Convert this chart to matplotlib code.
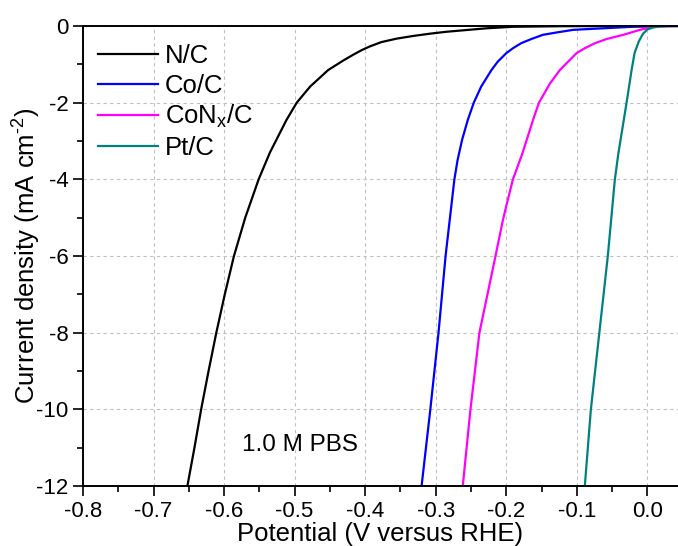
import matplotlib
matplotlib.use("Agg")
import matplotlib.pyplot as plt
from matplotlib.ticker import MultipleLocator

plt.rcParams['font.family'] = ['Liberation Sans', 'DejaVu Sans']
plt.rcParams['mathtext.fontset'] = 'custom'
plt.rcParams['mathtext.rm'] = 'Liberation Sans'
plt.rcParams['mathtext.it'] = 'Liberation Sans:italic'
plt.rcParams['axes.unicode_minus'] = False

# polarization curves (potential in V vs RHE, current density in mA cm-2)
nc_v = [-0.652, -0.642, -0.6325, -0.622, -0.611, -0.599, -0.586, -0.570, -0.551, -0.535,
        -0.5115, -0.497, -0.478, -0.4525, -0.431, -0.417, -0.405, -0.393, -0.377, -0.3555,
        -0.332, -0.308, -0.2846, -0.247, -0.228, -0.19, -0.12, 0.0, 0.0435]
nc_j = [-12.0, -11.0, -10.0, -9.0, -8.0, -7.0, -6.0, -5.0, -4.0, -3.3,
        -2.45, -2.0, -1.58, -1.15, -0.90, -0.75, -0.63, -0.53, -0.42, -0.33,
        -0.26, -0.2, -0.15, -0.09, -0.06, -0.02, -0.005, 0.0, 0.0]

co_v = [-0.320, -0.3076, -0.296, -0.286, -0.2735, -0.269, -0.2626, -0.2545, -0.246, -0.2355,
        -0.221, -0.212, -0.200, -0.1905, -0.179, -0.1645, -0.148, -0.129, -0.105, -0.02,
        0.02, 0.0435]
co_j = [-12.0, -10.0, -8.0, -6.0, -4.0, -3.5, -2.97, -2.45, -2.0, -1.58,
        -1.15, -0.93, -0.71, -0.58, -0.45, -0.34, -0.23, -0.17, -0.10, -0.02,
        -0.005, 0.0]

conx_v = [-0.2616, -0.2507, -0.238, -0.2152, -0.2047, -0.200, -0.1905, -0.177, -0.162, -0.1536,
          -0.138, -0.124, -0.1123, -0.1005, -0.0886, -0.0744, -0.0578, -0.034, -0.0104, 0.0085,
          0.02, 0.0435]
conx_j = [-12.0, -10.0, -8.0, -6.0, -5.06, -4.7, -4.0, -3.32, -2.45, -2.0,
          -1.5, -1.15, -0.93, -0.71, -0.58, -0.45, -0.34, -0.23, -0.1, -0.02,
          0.0, 0.0]

pt_v = [-0.0886, -0.080, -0.068, -0.056, -0.046, -0.041, -0.0294, -0.0223, -0.018, -0.012,
        -0.006, 0.0, 0.008, 0.018, 0.03, 0.0435]
pt_j = [-12.0, -10.0, -8.0, -6.0, -4.0, -3.32, -2.0, -1.15, -0.7, -0.4,
        -0.2, -0.09, -0.04, -0.012, 0.0, 0.0]

labels = ["N/C", "Co/C", "CoN$_\\mathrm{x}$/C", "Pt/C"]
colors = ["black", "#0000ff", "#ff00ff", "#008080"]

fig = plt.figure(figsize=(6.78, 5.46), dpi=100)
ax = fig.add_axes((83 / 678, 1 - 486 / 546, 595 / 678, 460 / 546))

for v, j, lab, c in zip([nc_v, co_v, conx_v, pt_v], [nc_j, co_j, conx_j, pt_j], labels, colors):
    ax.plot(v, j, color=c, lw=1.6, label=lab)

ax.set_xlim(-0.8, 0.0435)
ax.set_ylim(-12, 0)
ax.xaxis.set_major_locator(MultipleLocator(0.1))
ax.xaxis.set_minor_locator(MultipleLocator(0.05))
ax.yaxis.set_major_locator(MultipleLocator(2))
ax.yaxis.set_minor_locator(MultipleLocator(1))
ax.xaxis.set_major_formatter(plt.FuncFormatter(lambda x, p: "%.1f" % (0.0 if abs(x) < 1e-9 else x)))

ax.grid(True, which='major', color='#c0c0c0', ls=(0, (3, 3)), lw=0.8)
ax.tick_params(which='major', direction='out', length=7, width=1.2, labelsize=16, top=False, right=False)
ax.tick_params(which='minor', direction='out', length=4, width=1.2, top=False, right=False)
for s in ['left', 'bottom', 'top']:
    ax.spines[s].set_linewidth(1.4)
ax.spines['right'].set_visible(False)

ax.set_xlabel("Potential (V versus RHE)", fontsize=18.5, labelpad=0)
ax.set_ylabel("Current density (mA cm$^{\\text{-2}}$)", fontsize=18.5, labelpad=-5)

ax.text(-0.575, -10.93, "1.0 M PBS", fontsize=17.5, ha='left', va='center')

ax.legend(loc='upper left', bbox_to_anchor=(-0.005, 1.0), frameon=False, fontsize=18.5,
          handlelength=2.35, handletextpad=0.25, labelspacing=0.22, borderaxespad=0.3)

fig.savefig("out.png", dpi=100)
